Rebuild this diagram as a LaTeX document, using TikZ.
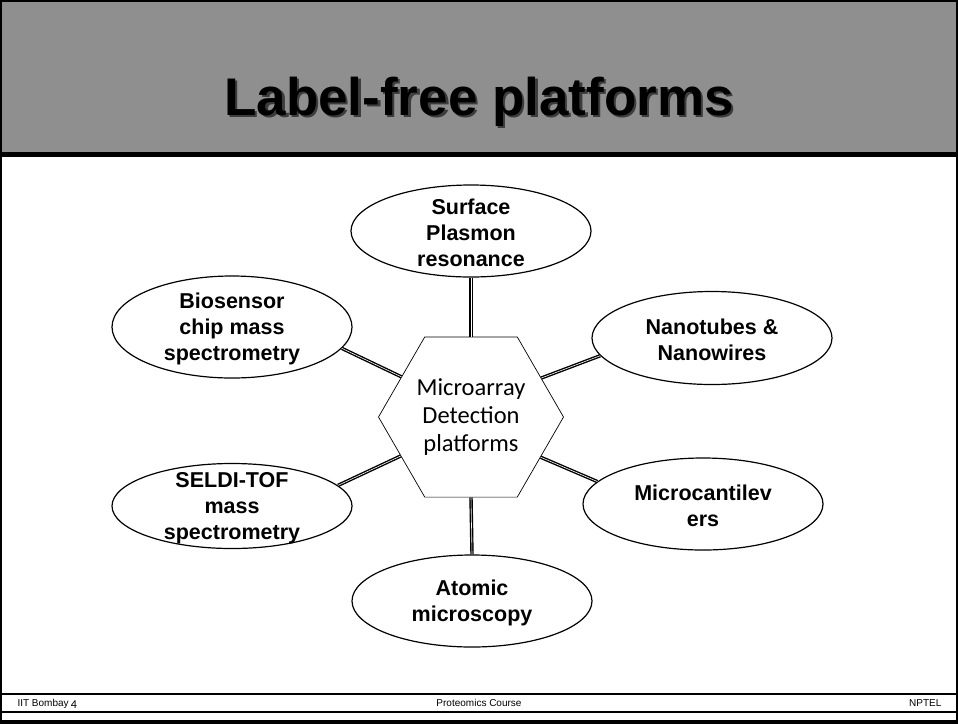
\documentclass[tikz,border=0pt]{standalone}
\usepackage{fontspec}
\setmainfont{Liberation Sans}
\newfontfamily\hexfont{Carlito}
\usepackage{xcolor}
\usetikzlibrary{shapes.geometric}
\definecolor{bandgray}{RGB}{143,143,143}
\definecolor{shadowgray}{RGB}{60,60,60}

\begin{document}
\begin{tikzpicture}[x=1pt,y=-1pt,
  platform/.style={ellipse, draw, line width=1.2pt, fill=white, minimum width=240pt, inner sep=0pt},
  plabel/.style={align=center, yshift=-2pt, font=\fontsize{21.5}{26}\selectfont\bfseries},
  hexbox/.style={regular polygon, regular polygon sides=6, draw, line width=0.7pt, fill=white,
    minimum size=185pt, inner sep=0pt, align=center, font=\hexfont\fontsize{24.5}{28}\selectfont},
  link/.style={line width=1.4pt, double=white, double distance=0.6pt},
  foot/.style={font=\fontsize{10}{12}\selectfont, anchor=base}]
\useasboundingbox (0,0) rectangle (958,724);
% title band
\fill[bandgray] (0,0) rectangle (958,152);
\draw[line width=5pt] (0,154.5) -- (958,154.5);
\node[font=\fontsize{53}{60}\selectfont\bfseries, anchor=base, text=shadowgray] (title-sh) at (481.5,117.5) {Label-free platforms};
\node[font=\fontsize{53}{60}\selectfont\bfseries, anchor=base] (title) at (479,115) {Label-free platforms};
% centre hexagon
\node[hexbox] (hex) at (471,417) {Microarray\\Detection\\platforms};
% platforms: name/x/y/height/text
\foreach \nm/\x/\y/\h/\txt in {
  sp/471/231/92/{Surface\\Plasmon\\resonance},
  bio/232/327/102/{Biosensor\\chip mass\\spectrometry},
  nano/712/338/93/{Nanotubes \&\\Nanowires},
  seldi/232/506/85/{SELDI-TOF\\mass\\spectrometry},
  micro/703/504/92/{Microcantilev\\ers},
  atom/472/601/92/{Atomic\\microscopy}} {
  \node[platform, minimum height=\h pt] (\nm) at (\x,\y) {};
  \node[plabel] (\nm-txt) at (\nm) {\txt};
}
% links to the hexagon
\foreach \nm/\a/\b in {sp/270/90, bio/349/150, nano/189/29, seldi/11/209, micro/168/-30, atom/90/270}
  \draw[link] (\nm.\a) -- (hex.\b);
% footer
\draw[line width=1.2pt] (0,694) -- (958,694);
\draw[line width=1.2pt] (0,712) -- (958,712);
\node[foot, anchor=base west] (f-iit) at (14,706) {IIT Bombay};
\node[foot, font=\hexfont\fontsize{12}{14}\selectfont, anchor=base] (f-num) at (74,708) {4};
\node[foot] (f-course) at (479,706) {Proteomics Course};
\node[foot, anchor=base east] (f-nptel) at (945,706) {NPTEL};
% frame
\draw[line width=2pt] (1,1) rectangle (957,723);
\draw[line width=4pt] (0,722) -- (958,722);
\end{tikzpicture}
\end{document}
